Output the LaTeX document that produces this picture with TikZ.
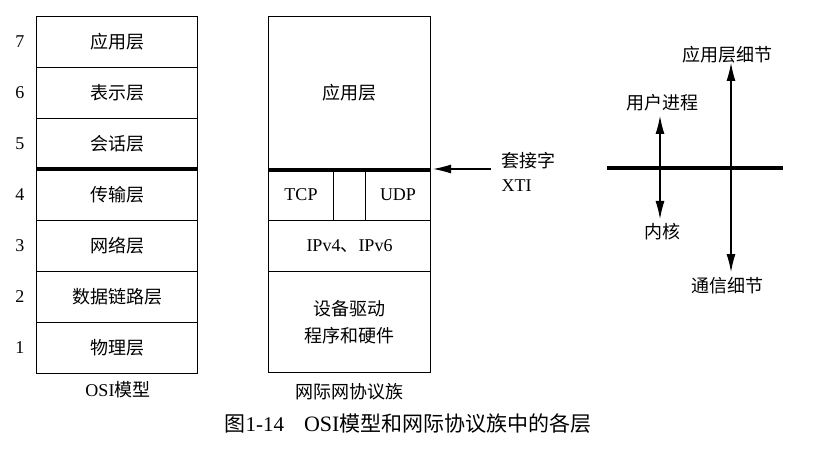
\documentclass[tikz,border=0pt]{standalone}
\usepackage{fontspec}
\setmainfont{Liberation Serif}
\newfontfamily\cjk{Noto Sans CJK SC}
\usetikzlibrary{arrows.meta}
\tikzset{
  lay/.style={draw, line width=1pt, anchor=north west, inner sep=0pt, font=\cjk\fontsize{18}{21}\selectfont, align=center},
  num/.style={font=\fontsize{18}{20}\selectfont},
  thick line/.style={line width=3.2pt},
  lbl/.style={font=\cjk\fontsize{18}{21}\selectfont, align=center},
  tip/.style={-{Latex[length=18pt,width=9pt]}, line width=1.1pt},
  dtip/.style={{Latex[length=18pt,width=9pt]}-{Latex[length=18pt,width=9pt]}, line width=1.1pt}
}
\begin{document}
\begin{tikzpicture}[x=1pt,y=1pt]
\useasboundingbox[fill=white] (0,0) rectangle (821,-462);
% OSI stack
\node[lay, minimum width=161pt, minimum height=51pt] (o7) at (36,-16) {应用层};
\node[lay, minimum width=161pt, minimum height=51pt] (o6) at (36,-67) {表示层};
\node[lay, minimum width=161pt, minimum height=51pt] (o5) at (36,-118) {会话层};
\node[lay, minimum width=161pt, minimum height=51pt] (o4) at (36,-169) {传输层};
\node[lay, minimum width=161pt, minimum height=51pt] (o3) at (36,-220) {网络层};
\node[lay, minimum width=161pt, minimum height=51pt] (o2) at (36,-271) {数据链路层};
\node[lay, minimum width=161pt, minimum height=51pt] (o1) at (36,-322) {物理层};
\draw[thick line] (o4.north west) -- (o4.north east);
\foreach \n in {1,...,7}{\node[num] (n\n) at (20,0 |- o\n.center) {\n};}
\node[lbl] (osil) at (118,-390) {{\rmfamily\fontsize{18}{20}\selectfont OSI}模型};
% Internet stack
\node[lay, minimum width=162pt, minimum height=153pt] (app) at (268,-16) {应用层};
\node[lay, minimum width=65pt, minimum height=51pt, font=\fontsize{18}{20}\selectfont] (tcp) at (268,-169) {TCP};
\node[lay, minimum width=32pt, minimum height=51pt] (gap) at (333,-169) {};
\node[lay, minimum width=65pt, minimum height=51pt, font=\fontsize{18}{20}\selectfont] (udp) at (365,-169) {UDP};
\node[lay, minimum width=162pt, minimum height=51pt] (ip) at (268,-220) {{\rmfamily\fontsize{18}{20}\selectfont IPv4}、{\rmfamily\fontsize{18}{20}\selectfont IPv6}};
\node[lay, minimum width=162pt, minimum height=101pt, font=\cjk\fontsize{18}{27}\selectfont] (dev) at (268,-271) {设备驱动\\程序和硬件};
\draw[thick line] (app.south west) -- (app.south east);
\node[lbl] (inetl) at (349,-392) {网际网协议族};
% socket arrow
\node[lbl, anchor=west, align=left, font=\cjk\fontsize{18}{24}\selectfont] (sock) at (498,-172) {套接字\\{\rmfamily\fontsize{18}{20}\selectfont XTI}};
\coordinate (sockend) at (433,-169);
\coordinate (sockstart) at (491,-169);
\draw[tip] (sockstart) -- (sockend);
% right diagram
\coordinate (hl) at (607,-168);
\coordinate (hr) at (783,-168);
\draw[thick line] (hl) -- (hr);
\node[lbl] (user) at (662,-103) {用户进程};
\node[lbl] (kern) at (662,-232) {内核};
\draw[dtip] (660,-116) -- (660,-219);
\node[lbl] (appd) at (727,-55) {应用层细节};
\node[lbl] (comm) at (727,-286) {通信细节};
\draw[dtip] (731,-63) -- (731,-272);
% caption
\node[anchor=west, font=\cjk\fontsize{21}{24}\selectfont] (cap) at (221,-424) {图{\rmfamily\fontsize{21}{24}\selectfont 1-14}\hspace{20pt}{\rmfamily\fontsize{22}{24}\selectfont OSI}模型和网际协议族中的各层};
\end{tikzpicture}
\end{document}
